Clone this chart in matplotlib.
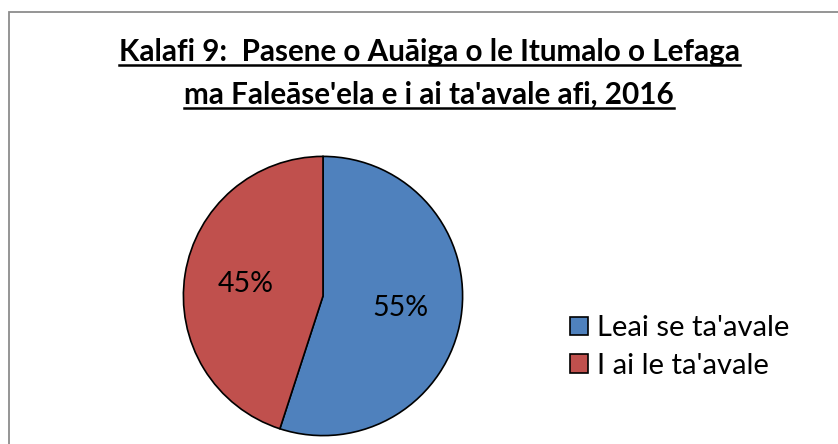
import matplotlib
matplotlib.use("Agg")
import matplotlib.pyplot as plt
from matplotlib.patches import Rectangle
from matplotlib.lines import Line2D

plt.rcParams['font.family'] = ['Lato', 'DejaVu Sans']

labels = ["Leai se ta'avale", "I ai le ta'avale"]
values = [55, 45]
colors = ['#4F81BD', '#C0504D']
title_lines = ["Kalafi 9:  Pasene o Auāiga o le Itumalo o Lefaga",
               "ma Faleāse'ela e i ai ta'avale afi, 2016"]

W, H = 838, 444
fig = plt.figure(figsize=(W / 100, H / 100), dpi=100)

# chart border (only top and left edges are inside the picture)
fig.patches.append(Rectangle((8.5 / W, -0.1), 1.2, 1.1 - 12.5 / H,
                             transform=fig.transFigure, fill=False,
                             edgecolor='#8c8c8c', linewidth=1.3))

# pie axes: centre (323, 296) px, radius 141 px
r = 141
cx, cy = 323, 296
ax = fig.add_axes([(cx - r) / W, 1 - (cy + r) / H, 2 * r / W, 2 * r / H])
wedges, texts, autotexts = ax.pie(values, colors=colors, startangle=90,
                                  counterclock=False, autopct='%d%%',
                                  pctdistance=0.56,
                                  wedgeprops=dict(edgecolor='black', linewidth=1.2),
                                  textprops=dict(fontsize=20.5, color='black'))
ax.set_xlim(-1.01, 1.01)
ax.set_ylim(-1.01, 1.01)
ax.set_aspect('equal')
ax.axis('off')

# title with underline
title_y = [52, 95]
fig.canvas.draw()
renderer = fig.canvas.get_renderer()
for line, y in zip(title_lines, title_y):
    t = fig.text(429 / W, 1 - y / H, line, ha='center', va='center',
                 fontsize=21.3, fontweight='bold')
    bb = t.get_window_extent(renderer=renderer)
    uy = bb.y0 + 1
    fig.lines.append(Line2D([bb.x0 / W, bb.x1 / W], [uy / H, uy / H],
                            transform=fig.transFigure, color='black',
                            linewidth=1.8))

leg = fig.legend(wedges, labels, loc='center left',
                 bbox_to_anchor=(544 / W, 1 - 347 / H), frameon=False,
                 fontsize=21, handlelength=0.6, handleheight=0.6,
                 handletextpad=0.3, labelspacing=0.38)
for h in leg.legend_handles:
    h.set_edgecolor('black')
    h.set_linewidth(1.2)

fig.savefig('out.png', dpi=100)
